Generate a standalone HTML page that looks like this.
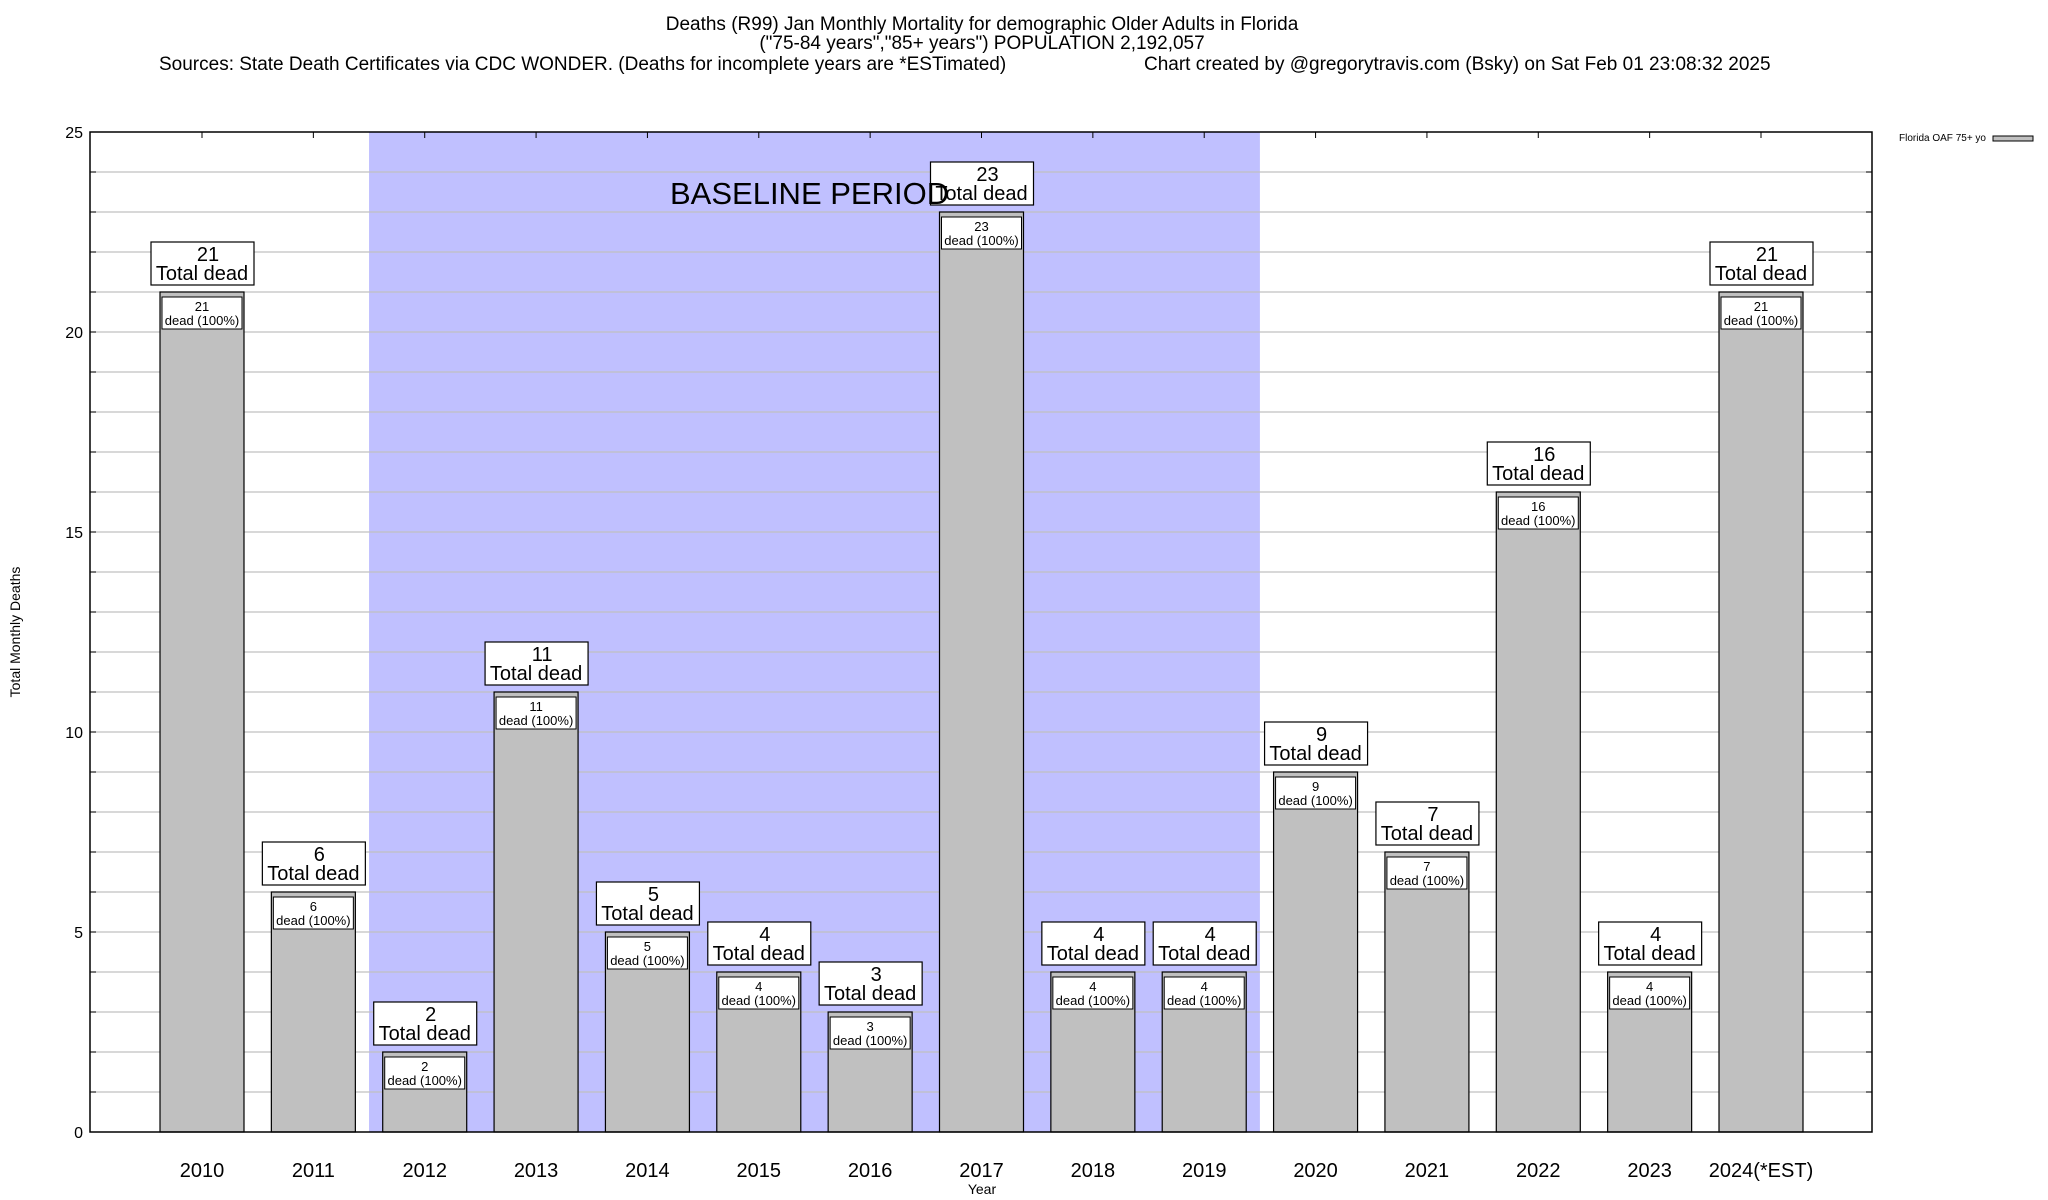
<!DOCTYPE html>
<html><head><meta charset="utf-8"><style>
html,body{margin:0;padding:0;background:#fff;}
svg{display:block;font-family:"Liberation Sans",sans-serif;}
</style></head><body>
<svg id="chart" width="2048" height="1200" viewBox="0 0 2048 1200" xmlns="http://www.w3.org/2000/svg">
<rect width="2048" height="1200" fill="#fff"/>
<g font-size="19" text-anchor="middle" fill="#000">
<text x="982" y="30">Deaths (R99) Jan Monthly Mortality for demographic Older Adults in Florida</text>
<text x="982" y="49">("75-84 years","85+ years") POPULATION 2,192,057</text>
<text x="159" y="70" text-anchor="start">Sources: State Death Certificates via CDC WONDER. (Deaths for incomplete years are *ESTimated)</text>
<text x="1144" y="70" text-anchor="start">Chart created by @gregorytravis.com (Bsky) on Sat Feb 01 23:08:32 2025</text>
</g>
<g id="plot"></g>
<text x="20" y="632" font-size="14" text-anchor="middle" transform="rotate(-90 20 632)">Total Monthly Deaths</text>
<text x="982" y="1194" font-size="14" text-anchor="middle">Year</text>
<g>
<text x="1986" y="141" font-size="10" text-anchor="end">Florida OAF 75+ yo</text>
<rect x="1993" y="136" width="40" height="5" fill="#c0c0c0" stroke="#000" stroke-width="1"/>
</g>
</svg>
<script>
const categories = ["2010","2011","2012","2013","2014","2015","2016","2017","2018","2019","2020","2021","2022","2023","2024(*EST)"];
const deaths = [21,6,2,11,5,4,3,23,4,4,9,7,16,4,21];
const yTicks = [0,5,10,15,20,25];
const baselineStart = 2, baselineEnd = 9;

const NS = "http://www.w3.org/2000/svg";
const L = 90, R = 1872, T = 132, B = 1132, yMax = 25;
const step = (1761 - 202) / 14, x0 = 202, barW = 84;
const xc = i => x0 + i * step;
const y = v => B - (v / yMax) * (B - T);
const g = document.getElementById('plot');
function mk(tag, attrs, parent) {
  const e = document.createElementNS(NS, tag);
  for (const k in attrs) e.setAttribute(k, attrs[k]);
  (parent || g).appendChild(e);
  return e;
}
const band = mk('rect', {x: xc(baselineStart) - step/2, y: T, width: (baselineEnd - baselineStart + 1) * step, height: B - T, fill: '#c0c0ff'});


for (let v = 1; v < yMax; v++) {
  const gl = mk('line', {x1: L, x2: R, y1: y(v), y2: y(v), stroke: '#c0c0c0', 'stroke-width': 1.3});
  
  
  mk('line', {x1: L, x2: L + 6, y1: y(v), y2: y(v), stroke: '#000'});
  mk('line', {x1: R - 6, x2: R, y1: y(v), y2: y(v), stroke: '#000'});
}
yTicks.forEach(v => {
  const t = mk('text', {x: 83, y: y(v) + 6, 'font-size': 16, 'text-anchor': 'end'});
  t.textContent = v;
  
  
});
categories.forEach((c, i) => {
  const v = deaths[i], cx = xc(i), top = y(v);
  const bar = mk('rect', {x: cx - barW/2, y: top, width: barW, height: B - top, fill: '#c0c0c0', stroke: '#000', 'stroke-width': 1.2});
  
  
  mk('rect', {x: cx - barW/2 + 2, y: top + 5, width: barW - 4, height: 32, fill: '#fff', stroke: '#000', 'stroke-width': 1});
  const it = mk('text', {x: cx, y: top + 19, 'font-size': 13, 'text-anchor': 'middle'});
  it.textContent = v;
  
  
  const it2 = mk('text', {x: cx, y: top + 33, 'font-size': 13, 'text-anchor': 'middle'});
  it2.textContent = 'dead (100%)';
  mk('rect', {x: cx - 51, y: top - 50, width: 103, height: 43, fill: '#fff', stroke: '#000', 'stroke-width': 1.2});
  const ot = mk('text', {x: cx + 6, y: top - 31, 'font-size': 20, 'text-anchor': 'middle'});
  ot.textContent = v;
  
  
  const ot2 = mk('text', {x: cx, y: top - 12, 'font-size': 20, 'text-anchor': 'middle'});
  ot2.textContent = 'Total dead';
  const xl = mk('text', {x: cx, y: 1177, 'font-size': 20, 'text-anchor': 'middle'});
  xl.textContent = c;
  
  
  mk('line', {x1: cx, x2: cx, y1: T, y2: T + 6, stroke: '#000'});
});
const bl = mk('text', {x: 670, y: 204, 'font-size': 31});
bl.textContent = 'BASELINE PERIOD';


const frame = mk('rect', {x: L, y: T, width: R - L, height: B - T, fill: 'none', stroke: '#000', 'stroke-width': 1.5});


</script>
</body></html>
